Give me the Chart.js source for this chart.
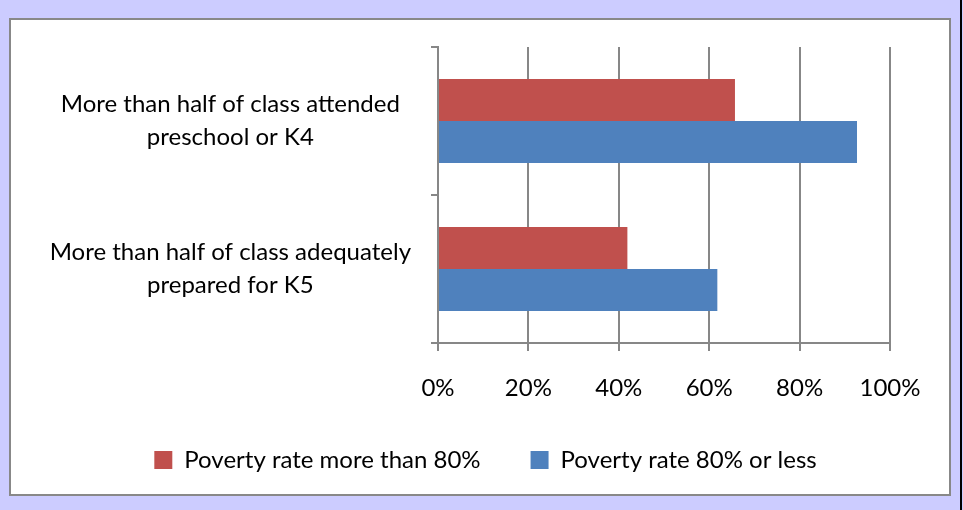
<!DOCTYPE html>
<html>
<head>
<meta charset="utf-8">
<script src="https://cdn.jsdelivr.net/npm/chart.js@4.4.1/dist/chart.umd.min.js"></script>
<style>
  html, body { margin: 0; padding: 0; }
  body { width: 963px; height: 510px; background: #ccccff; position: relative; overflow: hidden; }
  #frame {
    position: absolute; left: 9px; top: 18px;
    width: 938px; height: 474px;
    border: 2px solid #888888; background: #ffffff;
  }
  #edge { position: absolute; left: 960px; top: 0; width: 2px; height: 510px; background: #000000; }
  canvas { display: block; }
</style>
</head>
<body>
<div id="frame"><canvas id="chart" width="938" height="474"></canvas></div>
<div id="edge"></div>
<script>
const categories = [
  ['More than half of class attended', 'preschool or K4'],
  ['More than half of class adequately', 'prepared for K5']
];
const seriesNames = ['Poverty rate more than 80%', 'Poverty rate 80% or less'];
const highPovertyValues = [65.7, 41.9];
const lowPovertyValues = [92.7, 61.8];
const xTicks = [0, 20, 40, 60, 80, 100];

const seriesColors = ['#C0504D', '#4F81BD'];
const axisGray = '#878787';
const labelFont = { family: 'Lato, "Open Sans", sans-serif', size: 24 };

// Build the two bar datasets from the value arrays.
const buildDatasets = () => [highPovertyValues, lowPovertyValues].map((values, index) => ({
  label: seriesNames[index],
  data: values,
  backgroundColor: seriesColors[index],
  borderWidth: 0,
  categoryPercentage: 0.568,
  barPercentage: 1
}));

// Nudge the legend row right so it sits where the original one does.
const legendShift = {
  id: 'legendShift',
  afterLayout: (chart) => {
    if (chart.legend) {
      chart.legend.left += 25;
      chart.legend.right += 25;
    }
  }
};

const chart = new Chart(document.getElementById('chart'), {
  type: 'bar',
  data: { labels: categories, datasets: buildDatasets() },
  plugins: [legendShift],
  options: {
    indexAxis: 'y',
    responsive: false,
    animation: false,
    layout: { padding: { left: 20, right: 59, top: 27, bottom: 12 } },
    scales: {
      x: {
        min: 0,
        max: 100,
        afterBuildTicks: (scale) => { scale.ticks = xTicks.map((value) => ({ value })); },
        afterFit: (scale) => { scale.height = 55; },
        ticks: {
          color: '#000000',
          font: labelFont,
          padding: 23,
          maxRotation: 0,
          callback: (value) => value + '%'
        },
        grid: { color: axisGray, lineWidth: 2, tickLength: 8 },
        border: { color: axisGray, width: 2 }
      },
      y: {
        afterFit: (scale) => {
          scale.width = 407;
          scale.paddingTop = 0;
          scale.paddingBottom = 0;
        },
        ticks: {
          color: '#000000',
          font: { ...labelFont, lineHeight: 1.375 },
          crossAlign: 'center',
          padding: 20
        },
        grid: { drawOnChartArea: false, color: axisGray, lineWidth: 2, tickLength: 7 },
        border: { color: axisGray, width: 2 }
      }
    },
    plugins: {
      tooltip: { enabled: false },
      legend: {
        position: 'bottom',
        labels: {
          color: '#000000',
          font: labelFont,
          boxWidth: 18,
          boxHeight: 18,
          padding: 50
        }
      }
    }
  }
});
</script>
</body>
</html>
